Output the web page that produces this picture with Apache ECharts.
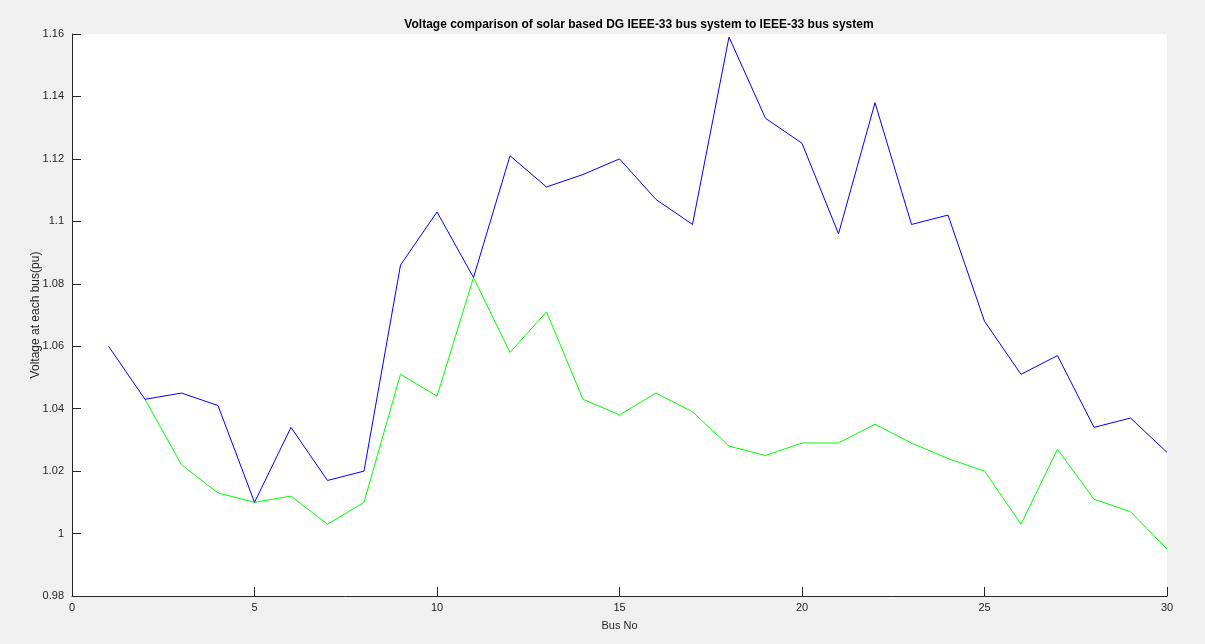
<!DOCTYPE html>
<html><head><meta charset="utf-8">
<script src="https://cdn.jsdelivr.net/npm/echarts@6/dist/echarts.min.js"></script>
<style>html,body{margin:0;padding:0;background:#f0f0f0;}#c{width:1205px;height:644px;}</style>
</head><body><div id="c"></div>
<script>
const busNo = [1,2,3,4,5,6,7,8,9,10,11,12,13,14,15,16,17,18,19,20,21,22,23,24,25,26,27,28,29,30];
const voltageBase = [1.060,1.043,1.045,1.041,1.010,1.034,1.017,1.020,1.086,1.103,1.082,1.121,1.111,1.115,1.120,1.107,1.099,1.159,1.133,1.125,1.096,1.138,1.099,1.102,1.068,1.051,1.057,1.034,1.037,1.026];
const voltageSolarDG = [null,1.043,1.022,1.013,1.010,1.012,1.003,1.010,1.051,1.044,1.082,1.058,1.071,1.043,1.038,1.045,1.039,1.028,1.025,1.029,1.029,1.035,1.029,1.024,1.020,1.003,1.027,1.011,1.007,0.995];
const titleText = 'Voltage comparison of solar based DG IEEE-33 bus system to IEEE-33 bus system';
const xLabel = 'Bus No';
const yLabel = 'Voltage at each bus(pu)';

const chart = echarts.init(document.getElementById('c'));
const font = 'Liberation Sans, Arial, Helvetica, sans-serif';
chart.setOption({
  backgroundColor: '#f0f0f0',
  animation: false,
  title: {
    text: titleText, left: 634, textAlign: 'center', top: 14,
    textStyle: {fontFamily: font, fontSize: 12, fontWeight: 'bold', color: '#000'}
  },
  grid: {left: 72, right: 38, top: 34, bottom: 48, show: true, backgroundColor: '#fff', borderWidth: 0},
  xAxis: {
    type: 'value', min: 0, max: 30, interval: 5,
    name: xLabel, nameLocation: 'middle', nameGap: 24, nameMoveOverlap: false,
    nameTextStyle: {fontFamily: font, fontSize: 11, color: '#262626'},
    axisLine: {lineStyle: {color: '#262626', width: 1}},
    axisTick: {inside: true, length: 9, lineStyle: {color: '#262626'}},
    axisLabel: {fontFamily: font, fontSize: 11, color: '#262626', margin: 6},
    splitLine: {show: false}
  },
  yAxis: {
    type: 'value', min: 0.98, max: 1.16, interval: 0.02,
    name: yLabel, nameLocation: 'middle', nameGap: 30, nameRotate: 90, nameMoveOverlap: false,
    nameTextStyle: {fontFamily: font, fontSize: 12, color: '#262626'},
    axisLine: {show: true, lineStyle: {color: '#262626', width: 1}},
    axisTick: {show: true, inside: true, length: 9, lineStyle: {color: '#262626'}},
    axisLabel: {fontFamily: font, fontSize: 11, color: '#262626', margin: 8,
      formatter: v => String(parseFloat(v.toFixed(2)))},
    splitLine: {show: false}
  },
  series: [
    {type: 'line', data: busNo.map((x, i) => [x, voltageSolarDG[i]]), showSymbol: false, connectNulls: false,
     lineStyle: {color: '#00ff00', width: 1}, z: 2},
    {type: 'line', data: busNo.map((x, i) => [x, voltageBase[i]]), showSymbol: false,
     lineStyle: {color: '#0000ff', width: 1}, z: 3}
  ]
});
</script></body></html>
